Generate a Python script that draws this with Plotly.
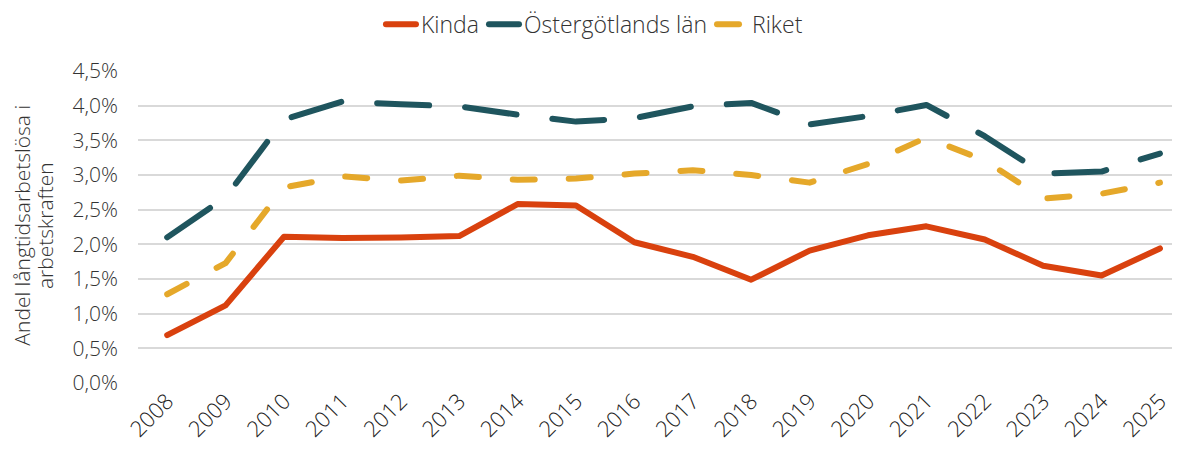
import plotly.graph_objects as go

years = [str(y) for y in range(2008, 2026)]
kinda = [0.69, 1.12, 2.11, 2.09, 2.10, 2.12, 2.58, 2.56, 2.03, 1.82, 1.49, 1.91, 2.13, 2.26, 2.07, 1.69, 1.55, 1.94]
ostergotland = [2.10, 2.68, 3.80, 4.06, 4.02, 3.99, 3.87, 3.77, 3.82, 3.99, 4.04, 3.73, 3.85, 4.01, 3.56, 3.02, 3.05, 3.31]
riket = [1.28, 1.73, 2.82, 2.98, 2.92, 2.99, 2.93, 2.95, 3.02, 3.07, 3.00, 2.89, 3.16, 3.54, 3.21, 2.66, 2.73, 2.89]

ytick_vals = [0, 0.5, 1.0, 1.5, 2.0, 2.5, 3.0, 3.5, 4.0, 4.5]
ytick_text = ["0,0%", "0,5%", "1,0%", "1,5%", "2,0%", "2,5%", "3,0%", "3,5%", "4,0%", "4,5%"]
ytitle_lines = ["Andel långtidsarbetslösa i", "arbetskraften"]

FONT = "Open Sans"
TXT = "#333333"

fig = go.Figure()
fig.add_trace(go.Scatter(x=years, y=kinda, name="Kinda", mode="lines",
                         line=dict(color="#D9410E", width=6)))
fig.add_trace(go.Scatter(x=years, y=ostergotland, name="Östergötlands län", mode="lines",
                         line=dict(color="#1F555E", width=6, dash="52px,36px")))
fig.add_trace(go.Scatter(x=years, y=riket, name="Riket", mode="lines",
                         line=dict(color="#E5A82A", width=6, dash="22px,34px")))

for line_text, xpos in zip(ytitle_lines, [-0.1100, -0.0886]):
    fig.add_annotation(text=line_text, xref="paper", yref="paper", x=xpos, y=0.506,
                       xanchor="center", yanchor="middle", textangle=-90, showarrow=False,
                       font=dict(size=21, family=FONT, color=TXT, weight=300))

fig.update_layout(
    width=1180, height=450,
    margin=dict(l=130, r=0, t=63, b=75, autoexpand=False),
    paper_bgcolor="white", plot_bgcolor="white",
    font=dict(family=FONT, size=21, color=TXT, weight=300),
    legend=dict(orientation="h", xref="container", x=0.497, xanchor="center",
                yref="container", y=0.964, yanchor="middle",
                font=dict(size=23, family=FONT, color=TXT, weight=300),
                traceorder="normal"),
    xaxis=dict(type="category", range=[-0.5, 17.48], tickangle=-45,
               showgrid=False, showline=False, ticks="", automargin=False,
               tickfont=dict(size=22, family=FONT, color="#222222", weight=300)),
    yaxis=dict(range=[0, 4.5], tickvals=ytick_vals, ticktext=ytick_text,
               showgrid=True, gridcolor="#d9d9d9", gridwidth=2,
               zeroline=False, showline=False, ticks="", automargin=False,
               ticklabelstandoff=19,
               tickfont=dict(size=21, family=FONT, color=TXT, weight=300)),
)

post = """
function fixCaps(){
  document.querySelectorAll('.scatterlayer path.js-line, .legend path.js-line').forEach(function(p){
    p.style.strokeLinecap='round'; p.style.strokeLinejoin='round';
  });
}
fixCaps();
var gd = document.getElementsByClassName('plotly-graph-div')[0];
if (gd && gd.on) { gd.on('plotly_afterplot', fixCaps); }
"""
fig.write_html("out.html", post_script=post)
